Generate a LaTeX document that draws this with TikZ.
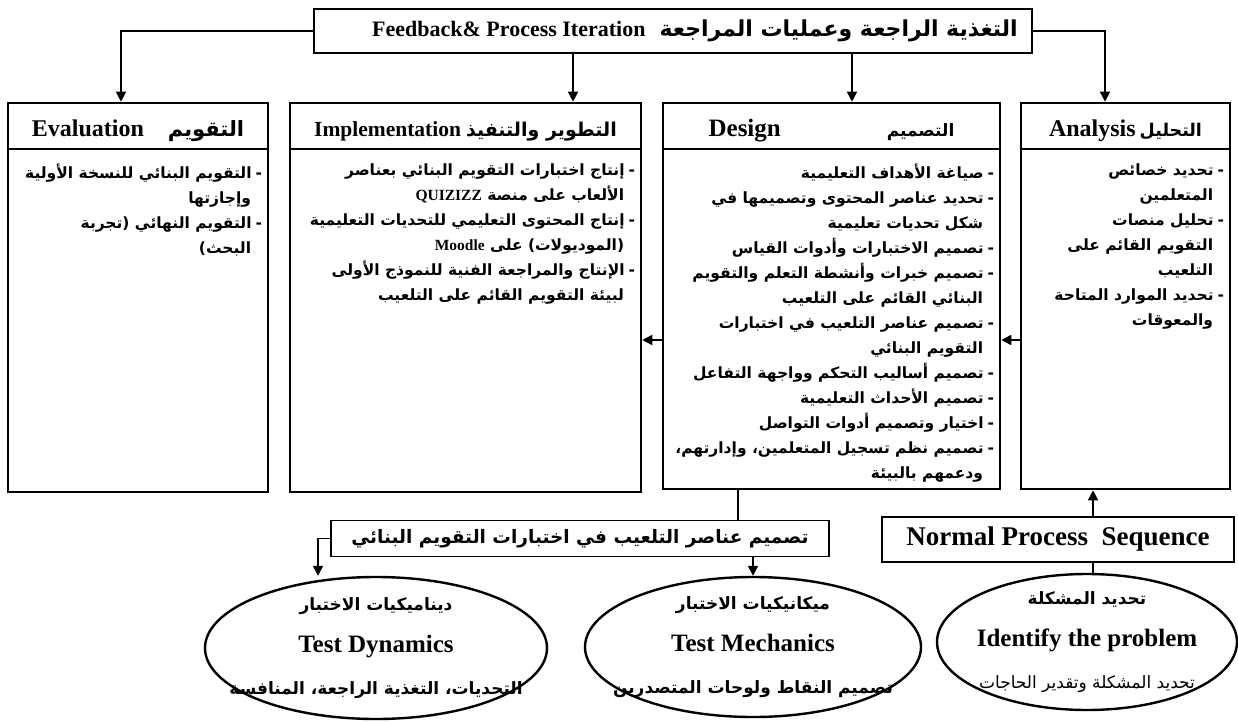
\documentclass[tikz,border=0pt]{standalone}
\usepackage{fontspec}
\setmainfont{Liberation Serif}
\newfontfamily\arabicfont[Script=Arabic]{DejaVu Sans}
\TeXXeTstate=1
\usetikzlibrary{shapes.geometric,arrows.meta,positioning}
\newcommand\artxt[1]{{\arabicfont\bfseries\beginR #1\endR}}
\newcommand\arsz[2]{{\fontsize{#1}{#1}\selectfont\arabicfont\bfseries\beginR #2\endR}}
\newcommand\entxt[1]{\beginL{\rmfamily\bfseries #1}\endL}
\newcommand\entitle[1]{{\fontsize{25}{28}\selectfont\bfseries #1}}
\newcommand\itm[1]{\artxt{-\hspace*{4pt}#1}}
\newcommand\cnt[1]{\artxt{\hspace*{11pt}#1}}
\tikzset{
  mainbox/.style={draw, rectangle, line width=2.6pt, inner sep=0pt},
  thinbox/.style={draw, rectangle, line width=1.1pt, inner sep=0pt, fill=white},
  headline/.style={line width=2pt},
  hdr/.style={inner sep=0pt, anchor=base, font=\fontsize{24}{26}\selectfont\bfseries},
  body/.style={align=right, inner sep=0pt, font=\fontsize{15.5}{25}\selectfont},
  ellip/.style={draw, ellipse, line width=2.4pt, inner sep=0pt},
  elltext/.style={align=center, inner sep=0pt, font=\fontsize{17}{42}\selectfont},
  conn/.style={line width=1.8pt, -{Triangle[width=10pt,length=10pt]}},
  link/.style={line width=1.8pt}
}
\begin{document}
\begin{tikzpicture}[x=1pt,y=1pt]
  \useasboundingbox (0,0) rectangle (1238,-722);
  \node[thinbox, minimum width=718, minimum height=44, font=\fontsize{22}{24}\selectfont\bfseries] (fb) at (673,-31)
    {\hspace*{44pt}Feedback\& Process Iteration\hspace{14pt}\artxt{التغذية الراجعة وعمليات المراجعة}};
  \node[mainbox, minimum width=260, minimum height=389] (eval) at (138,-297.5) {};
  \node[mainbox, minimum width=351, minimum height=389] (impl) at (465.5,-297.5) {};
  \node[mainbox, minimum width=337, minimum height=386] (design) at (831.5,-296) {};
  \node[mainbox, minimum width=209, minimum height=386] (anal) at (1125.5,-296) {};
  \foreach \b in {eval,impl,design,anal}
    \draw[headline] ([yshift=-47]\b.north west) -- ([yshift=-47]\b.north east);
  \node[hdr] (evalh) at ([yshift=-35]eval.north) {Evaluation\hspace{24pt}\arsz{21}{التقويم}};
  \node[hdr, font=\fontsize{21.5}{24}\selectfont\bfseries] (implh) at ([yshift=-35]impl.north)
    {Implementation\hspace{5pt}\arsz{19}{التطوير والتنفيذ}};
  \node[hdr, font=\fontsize{25}{26}\selectfont\bfseries] (designh) at ([yshift=-35]design.north)
    {Design\hspace{106pt}\arsz{17}{التصميم}};
  \node[hdr] (analh) at ([yshift=-35]anal.north) {Analysis\hspace{4pt}\arsz{17.5}{التحليل}};
  \node[body, anchor=north east] (evalb) at ([xshift=-7,yshift=-62]eval.north east)
    {\itm{التقويم البنائي للنسخة الأولية}\\ \cnt{وإجازتها}\\
     \itm{التقويم النهائي (تجربة}\\ \cnt{البحث)}};
  \node[body, anchor=north east] (implb) at ([xshift=-7,yshift=-62]impl.north east)
    {\itm{إنتاج اختبارات التقويم البنائي بعناصر}\\ \cnt{الألعاب على منصة \entxt{QUIZIZZ}}\\
     \itm{إنتاج المحتوى التعليمي للتحديات التعليمية}\\ \cnt{(الموديولات) على \entxt{Moodle}}\\
     \itm{الإنتاج والمراجعة الفنية للنموذج الأولى}\\ \cnt{لبيئة التقويم القائم على التلعيب}};
  \node[body, anchor=north east] (designb) at ([xshift=-7,yshift=-62]design.north east)
    {\itm{صياغة الأهداف التعليمية}\\
     \itm{تحديد عناصر المحتوى وتصميمها في}\\ \cnt{شكل تحديات تعليمية}\\
     \itm{تصميم الاختبارات وأدوات القياس}\\
     \itm{تصميم خبرات وأنشطة التعلم والتقويم}\\ \cnt{البنائي القائم على التلعيب}\\
     \itm{تصميم عناصر التلعيب في اختبارات}\\ \cnt{التقويم البنائي}\\
     \itm{تصميم أساليب التحكم وواجهة التفاعل}\\
     \itm{تصميم الأحداث التعليمية}\\
     \itm{اختيار وتصميم أدوات التواصل}\\
     \itm{تصميم نظم تسجيل المتعلمين، وإدارتهم،}\\ \cnt{ودعمهم بالبيئة}};
  \node[body, anchor=north east] (analb) at ([xshift=-7,yshift=-62]anal.north east)
    {\itm{تحديد خصائص}\\ \cnt{المتعلمين}\\
     \itm{تحليل منصات}\\ \cnt{التقويم القائم على}\\ \cnt{التلعيب}\\
     \itm{تحديد الموارد المتاحة}\\ \cnt{والمعوقات}};
  \node[thinbox, minimum width=498, minimum height=36, font=\fontsize{18.5}{20}\selectfont] (gam) at (580,-538.5)
    {\artxt{تصميم عناصر التلعيب في اختبارات التقويم البنائي}};
  \node[thinbox, minimum width=352, minimum height=45, font=\fontsize{27}{28}\selectfont\bfseries] (nps) at (1058,-539.5)
    {Normal Process\ \ Sequence};
  \node[ellip, minimum width=342, minimum height=142] (dyn) at (376,-648) {};
  \node[ellip, minimum width=336, minimum height=140] (mech) at (753,-647) {};
  \node[ellip, minimum width=300, minimum height=136] (ident) at (1087,-642) {};
  \node[elltext] (dynt) at (dyn.center)
    {\artxt{ديناميكيات الاختبار}\\ \entitle{Test Dynamics}\\ \artxt{التحديات، التغذية الراجعة، المنافسة}};
  \node[elltext] (mecht) at (mech.center)
    {\artxt{ميكانيكيات الاختبار}\\ \entitle{Test Mechanics}\\ \artxt{تصميم النقاط ولوحات المتصدرين}};
  \node[elltext] (identt) at (ident.center)
    {\artxt{تحديد المشكلة}\\ \entitle{Identify the problem}\\ {\arabicfont\beginR تحديد المشكلة وتقدير الحاجات\endR}};
  \coordinate (xeval) at (121,0);
  \coordinate (ximpl) at (573,0);
  \coordinate (xdesign) at (852,0);
  \coordinate (xanal) at (1105,0);
  \coordinate (ymid) at (0,-340);
  \coordinate (xgam) at (738,0);
  \coordinate (xdyn) at (318,0);
  \coordinate (xnps) at (1093,0);
  \draw[conn] (fb.west) -| (eval.north -| xeval);
  \draw[conn] (fb.east) -| (anal.north -| xanal);
  \draw[conn] (fb.south -| ximpl) -- (impl.north -| ximpl);
  \draw[conn] (fb.south -| xdesign) -- (design.north -| xdesign);
  \draw[conn] (anal.west |- ymid) -- (design.east |- ymid);
  \draw[conn] (design.west |- ymid) -- (impl.east |- ymid);
  \draw[link] (design.south -| xgam) -- (gam.north -| xgam);
  \draw[conn] (gam.south -| mech.north) -- (mech.north);
  \draw[conn] (gam.west) -| (dyn.north -| xdyn);
  \draw[conn] (nps.north -| xnps) -- (anal.south -| xnps);
  \draw[link] (ident.north -| xnps) -- (nps.south -| xnps);
\end{tikzpicture}
\end{document}
